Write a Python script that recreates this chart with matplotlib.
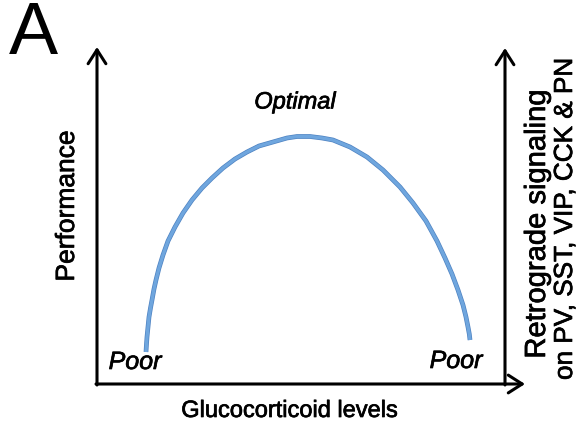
import matplotlib
matplotlib.use("Agg")
import matplotlib.pyplot as plt
import matplotlib.patheffects as pe

plt.rcParams['font.family'] = ['Liberation Sans', 'DejaVu Sans']

# Inverted-U curve (glucocorticoid level, performance)
gc_level = [49, 49.5, 50, 51, 52, 53.5, 55, 57, 59, 62, 66, 71, 78, 86, 95, 105, 115, 126, 138, 150, 162, 176, 190, 200, 213,
            225, 236, 253, 270, 286, 303, 316, 329, 340, 348, 355, 361, 366, 369, 371, 372.3, 373]
performance = [32, 40, 47, 57, 67, 76, 84, 95, 104, 116, 129, 143, 157, 171, 184, 196, 206, 216, 225, 232, 238, 242, 246, 247.5, 247.5,
               246, 244, 237, 227, 214, 197, 181, 163, 143, 126, 110, 94, 79, 67, 57, 50, 44]

panel_label = "A"
x_label = "Glucocorticoid levels"
y_label = "Performance"
right_label_1 = "Retrograde signaling"
right_label_2 = "on PV, SST, VIP, CCK & PN"
peak_label = "Optimal"
low_label = "Poor"

fig = plt.figure(figsize=(5.79, 4.29), dpi=100)
ax = fig.add_axes([0, 0, 1, 1])
ax.set_xlim(-97, 482)
ax.set_ylim(-45, 384)
ax.axis('off')

# curve
ax.plot(gc_level, performance, color='#6fa6de', lw=2.4, solid_capstyle='butt', solid_joinstyle='round',
        path_effects=[pe.Stroke(linewidth=3.4, foreground='#4f83c2', joinstyle='round'), pe.Normal()])

arrow_kw = dict(arrowstyle='->,head_length=0.5,head_width=0.32', lw=2.2, color='black',
                shrinkA=0, shrinkB=0, mutation_scale=20)
# left y axis
ax.annotate('', xy=(0, 337), xytext=(0, -1), arrowprops=arrow_kw)
# x axis
ax.annotate('', xy=(428, 0), xytext=(-1, 0), arrowprops=arrow_kw)
# right y axis
ax.annotate('', xy=(408, 336), xytext=(408, -1), arrowprops=arrow_kw)

heavy = [pe.withStroke(linewidth=0.5, foreground='black')]

ax.text(-64, 350, panel_label, fontsize=53, ha='center', va='center')
ax.text(198, 282, peak_label, fontsize=17, style='italic', ha='center', va='center', path_effects=heavy)
ax.text(38, 22, low_label, fontsize=18, style='italic', ha='center', va='center', path_effects=heavy)
ax.text(359, 23, low_label, fontsize=18, style='italic', ha='center', va='center', path_effects=heavy)
ax.text(193, -27, x_label, fontsize=17, ha='center', va='center', path_effects=heavy)
ax.text(-30, 178, y_label, fontsize=19, rotation=90, ha='center', va='center', path_effects=heavy)
ax.text(440, 160, right_label_1, fontsize=21, rotation=90, ha='center', va='center', path_effects=heavy)
ax.text(468, 165, right_label_2, fontsize=18.8, rotation=90, ha='center', va='center', path_effects=heavy)

fig.savefig('out.png', dpi=100)
